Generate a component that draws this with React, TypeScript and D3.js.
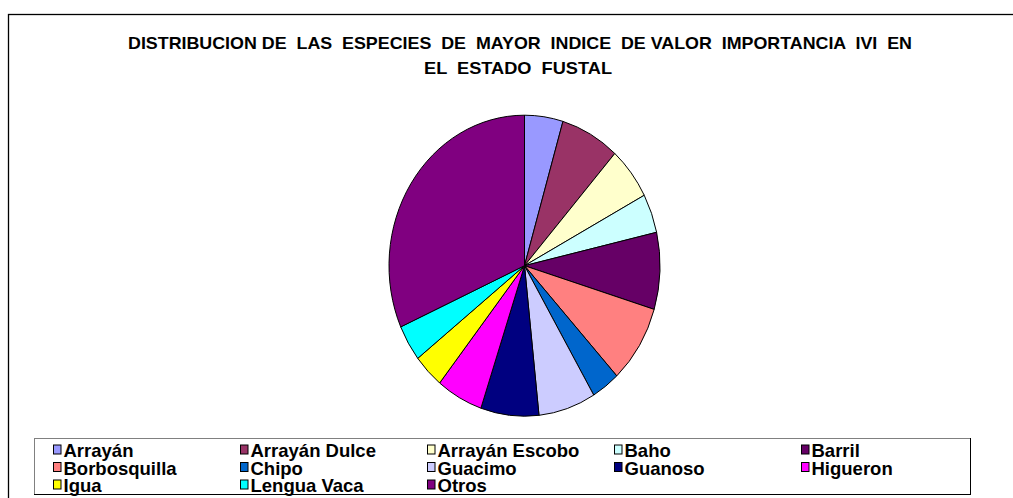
import React from "react";
import * as d3 from "d3";

const title1 = "DISTRIBUCION DE  LAS  ESPECIES  DE  MAYOR  INDICE  DE VALOR  IMPORTANCIA  IVI  EN";
const title2 = "EL  ESTADO  FUSTAL";

const species = [
  "Arrayán", "Arrayán Dulce", "Arrayán Escobo", "Baho", "Barril",
  "Borbosquilla", "Chipo", "Guacimo", "Guanoso", "Higueron",
  "Igua", "Lengua Vaca", "Otros",
];
const values = [4.58, 7.03, 5.64, 4.19, 8.25, 8.39, 3.39, 6.83, 6.92, 5.56, 3.67, 3.89, 31.67];
const colors = [
  "#9999FF", "#993366", "#FFFFCC", "#CCFFFF", "#660066",
  "#FF8080", "#0066CC", "#CCCCFF", "#000080", "#FF00FF",
  "#FFFF00", "#00FFFF", "#800080",
];

export default function App() {
  const W = 1013, H = 498;
  const cx = 524.5, cy = 265.7, rx = 135.5, ry = 150.5;
  const data = species.map((s, i) => ({ name: s, value: values[i], color: colors[i] }));
  const pie = d3.pie<any>().sort(null).value((d: any) => d.value).startAngle(0).endAngle(2 * Math.PI);
  const arc = d3.arc<any>().innerRadius(0).outerRadius(ry);
  const arcs = pie(data);

  const cols = 5;
  const colX = d3.scaleLinear().domain([0, 1]).range([53.5, 240.5]);
  const rowY = d3.scaleLinear().domain([0, 1]).range([445, 462.5]);

  return (
    <svg width={W} height={H} style={{ position: "absolute", left: 0, top: 0, background: "#fff" }}
      fontFamily="'Liberation Sans', Arial, sans-serif">
      <rect x={0} y={0} width={W} height={H} fill="#fff" />
      <rect x={8.5} y={14.5} width={1020} height={500} fill="none" stroke="#000" strokeWidth={1.3} />
      <text x={520} y={48.5} fontSize={17} fontWeight="bold" textAnchor="middle"
        textLength={784} lengthAdjust="spacingAndGlyphs" style={{ whiteSpace: "pre" }}>{title1}</text>
      <text x={518} y={73.5} fontSize={17} fontWeight="bold" textAnchor="middle"
        textLength={188} lengthAdjust="spacingAndGlyphs" style={{ whiteSpace: "pre" }}>{title2}</text>
      <g transform={`translate(${cx},${cy}) scale(${rx / ry},1)`}>
        {arcs.map((a, i) => (
          <path key={i} d={arc(a) || ""} fill={a.data.color} stroke="#000" strokeWidth={1}
            vectorEffect="non-scaling-stroke" />
        ))}
      </g>
      <g>
        <line x1={34} y1={438.5} x2={970} y2={438.5} stroke="#808080" strokeWidth={1} />
        <line x1={34.5} y1={438} x2={34.5} y2={494} stroke="#808080" strokeWidth={1} />
        <line x1={970.5} y1={438} x2={970.5} y2={494.5} stroke="#000" strokeWidth={1} />
        <line x1={34} y1={494.5} x2={971} y2={494.5} stroke="#000" strokeWidth={1} />
        {data.map((d, i) => {
          const c = i % cols, r = Math.floor(i / cols);
          const x = colX(c), y = rowY(r);
          return (
            <g key={i}>
              <rect x={x} y={y} width={7.5} height={9} fill={d.color} stroke="#000" strokeWidth={1} />
              <text x={x + 10} y={y + 12.3} fontSize={18.5} fontWeight="bold" fill="#000">{d.name}</text>
            </g>
          );
        })}
      </g>
    </svg>
  );
}
